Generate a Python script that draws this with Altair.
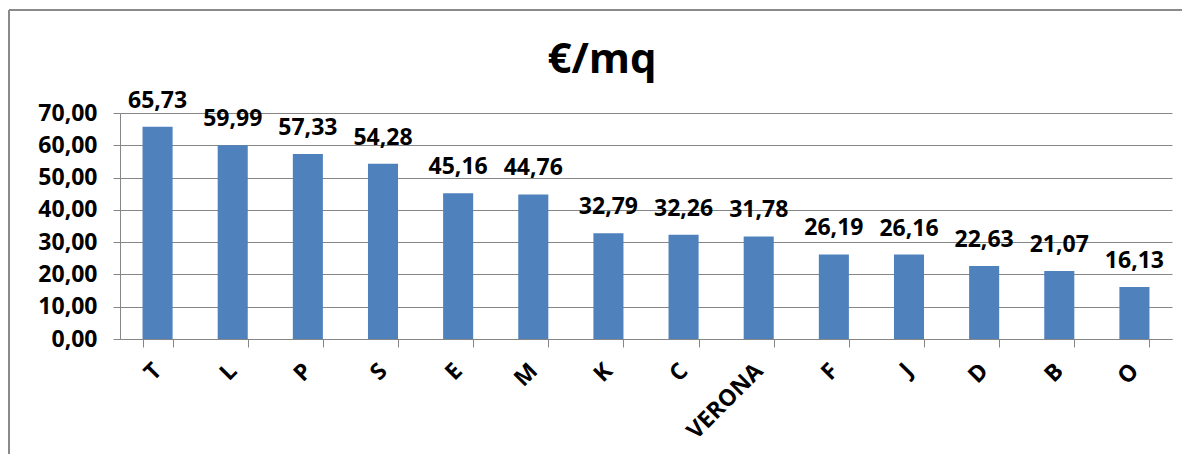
import altair as alt
import pandas as pd

categories = ["T", "L", "P", "S", "E", "M", "K", "C", "VERONA", "F", "J", "D", "B", "O"]
values = [65.73, 59.99, 57.33, 54.28, 45.16, 44.76, 32.79, 32.26, 31.78, 26.19, 26.16, 22.63, 21.07, 16.13]
y_ticks = [0, 10, 20, 30, 40, 50, 60, 70]
title_text = "€/mq"

df = pd.DataFrame({"cat": categories, "v": values})

FONT = "Open Sans"
W, H = 1052, 226
FS = 23
RIGHT = 10

x_enc = alt.X(
    "cat:N",
    sort=categories,
    scale=alt.Scale(paddingInner=0.6, paddingOuter=0.3),
    axis=alt.Axis(
        title=None,
        labelAngle=-45,
        labelAlign="right",
        labelBaseline="middle",
        labelFontSize=FS,
        labelFontWeight="bold",
        labelFont=FONT,
        labelColor="black",
        labelPadding=20,
        tickBand="extent",
        tickSize=8,
        tickColor="#868686",
        domainColor="#868686",
        grid=False,
    ),
)
y_enc = alt.Y(
    "v:Q",
    scale=alt.Scale(domain=[0, 70], nice=False),
    axis=alt.Axis(
        title=None,
        values=y_ticks,
        labelExpr="replace(format(datum.value, '.2f'), '.', ',')",
        labelFontSize=FS,
        labelFontWeight="bold",
        labelFont=FONT,
        labelColor="black",
        labelPadding=16,
        tickSize=7,
        tickColor="#868686",
        domainColor="#868686",
        gridColor="#868686",
        gridWidth=1,
    ),
)

base = alt.Chart(df).encode(x=x_enc, y=y_enc)

bars = base.mark_bar(color="#4F81BD")
labels = base.transform_calculate(
    label="replace(format(datum.v, '.2f'), '.', ',')"
).mark_text(
    baseline="alphabetic", dy=-19, fontSize=FS, fontWeight="bold", font=FONT, color="black"
).encode(text="label:N")

title = alt.Chart(alt.Data(values=[{}])).mark_text(
    fontSize=42, fontWeight="bold", font=FONT, color="black", baseline="alphabetic", align="center"
).encode(x=alt.value(482), y=alt.value(-40), text=alt.value(title_text))

top_border = alt.Chart(alt.Data(values=[{}])).mark_rule(
    stroke="#8a8a8a", strokeWidth=2, strokeCap="butt"
).encode(x=alt.value(-111), x2=alt.value(W + RIGHT), y=alt.value(-103))
left_border = alt.Chart(alt.Data(values=[{}])).mark_rule(
    stroke="#8a8a8a", strokeWidth=2, strokeCap="butt"
).encode(x=alt.value(-111), y=alt.value(-103), y2=alt.value(H + 115))

chart = alt.layer(top_border, left_border, bars, labels, title).properties(
    width=W,
    height=H,
    autosize=alt.AutoSizeParams(type="none"),
    padding={"left": 112, "top": 105, "right": RIGHT, "bottom": 115},
    background="white",
).configure_view(strokeWidth=0)

chart.save("out.html", embed_options={"renderer": "svg", "actions": False})
